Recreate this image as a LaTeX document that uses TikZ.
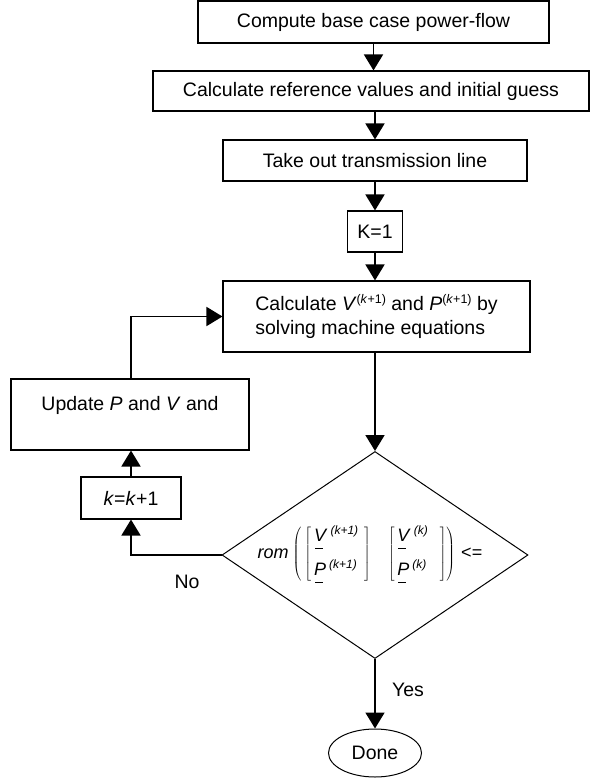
\documentclass[tikz,border=0pt]{standalone}
\usepackage{fontspec}
\setmainfont{Liberation Sans}
\usetikzlibrary{arrows.meta,shapes.geometric}
\newcommand\supk[1]{\raisebox{7pt}{\fontsize{12.5}{12}\selectfont #1}}
\newcommand\supm[1]{\raisebox{7pt}{\fontsize{12}{12}\selectfont\itshape #1}}
\newcommand\ubar[1]{\rlap{\hspace{1pt}\rule[-7pt]{8pt}{0.8pt}}\textit{#1}}
\begin{document}
\begin{tikzpicture}[x=1pt,y=-1pt,
  box/.style={draw,line width=1.1pt,inner sep=0pt,font=\fontsize{19.5}{24}\selectfont},
  lbl/.style={inner sep=0pt,font=\fontsize{19.5}{24}\selectfont},
  ar/.style={line width=1.8pt,-{Triangle[width=19pt,length=16pt]}}]
\useasboundingbox (0,0) rectangle (599,780);

\node[box,minimum width=351,minimum height=42] (b1) at (373.5,22) {Compute base case power-flow};
\node[box,minimum width=436,minimum height=40] (b2) at (371,91) {Calculate reference values and initial guess};
\node[box,minimum width=304,minimum height=41] (b3) at (375,160.5) {Take out transmission line};
\node[box,minimum width=55,minimum height=41] (k1) at (375,231.5) {K=1};
\node[box,minimum width=307,minimum height=71,align=left] (calc) at (376.5,316.5)
  {Calculate \textit{V}\supk{(\textit{k}+1)} and \textit{P}\supk{(\textit{k}+1)} by\\solving machine equations};
\node[box,minimum width=238,minimum height=71] (upd) at (130,414.5) {};
\node[lbl] (updt) at (130,405) {Update \textit{P} and \textit{V} and};
\node[box,minimum width=100,minimum height=42] (kk) at (131,498) {\textit{k}=\textit{k}+1};
\node[draw,line width=1pt,diamond,minimum width=306,minimum height=207,inner sep=0pt] (dec) at (375,555) {};
\node[inner sep=0pt,font=\fontsize{18}{21}\selectfont] (form) at (370,554)
  {\textit{rom}\hspace{4pt}$\left(\hspace{3pt}\left[\vcenter{\hbox{\begin{tabular}{@{\hspace{3pt}}l@{\hspace{6pt}}}\ubar{V}\hspace{3pt}\supm{(k+1)}\\[12pt]\ubar{P}\hspace{3pt}\supm{(k+1)}\end{tabular}}}\right]\hspace{14pt}
  \left[\vcenter{\hbox{\begin{tabular}{@{\hspace{3pt}}l@{\hspace{12pt}}}\ubar{V}\hspace{3pt}\supm{(k)}\\[12pt]\ubar{P}\hspace{3pt}\supm{(k)}\end{tabular}}}\right]\right)$\hspace{6pt}<=};
\node[draw,line width=1pt,ellipse,minimum width=93,minimum height=48,inner sep=0pt,font=\fontsize{19.5}{24}\selectfont] (done) at (375,753) {Done};
\node[lbl] (no) at (187,582) {No};
\node[lbl] (yes) at (408,690) {Yes};

\draw[ar] (b1.south) -- (b1.south |- b2.north);
\draw[ar] (b2.south -| b3.north) -- (b3.north);
\draw[ar] (b3.south) -- (k1.north);
\draw[ar] (k1.south) -- (k1.south |- calc.north);
\draw[ar] (calc.south -| dec.north) -- (dec.north);
\draw[ar] (dec.west) -| (kk.south);
\draw[ar] (kk.north) -- (kk.north |- upd.south);
\draw[ar] (kk.north |- upd.north) |- (calc.west);
\draw[ar] (dec.south) -- (done.north);
\end{tikzpicture}
\end{document}
